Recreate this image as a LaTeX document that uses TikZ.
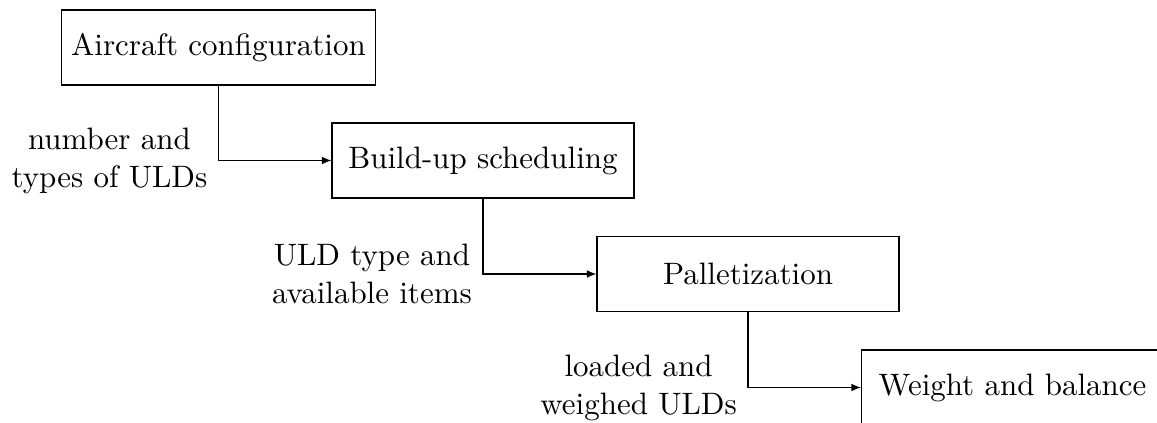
\documentclass[tikz,border=0pt]{standalone}
\usetikzlibrary{arrows.meta}
\begin{document}
\begin{tikzpicture}[x=0.339pt,y=-0.339pt,
  font=\fontsize{10.5pt}{12.9pt}\selectfont,
  stage/.style={draw, line width=0.4pt, minimum width=102.4pt, minimum height=25.4pt, inner xsep=3.4pt},
  flow/.style={-{Latex[length=3.2pt,width=2.6pt]}, line width=0.4pt},
  note/.style={align=center, anchor=east, inner sep=3.6pt}]
  \useasboundingbox (0,0) rectangle (1157,423);
  \node[stage] (ac) at (218.5,47.5) {Aircraft configuration};
  \node[stage] (bu) at (483,160.5) {Build-up scheduling};
  \node[stage] (pa) at (748,274) {Palletization};
  \node[stage] (wb) at (1012.5,387.5) {Weight and balance};
  \draw[flow] (ac.south) |- (bu.west) node[pos=0.5, note] {number and\\types of ULDs};
  \draw[flow] (bu.south) |- (pa.west) node[pos=0.5, note] {ULD type and\\available items};
  \draw[flow] (pa.south) |- (wb.west) node[pos=0.5, note] {loaded and\\weighed ULDs};
\end{tikzpicture}
\end{document}
